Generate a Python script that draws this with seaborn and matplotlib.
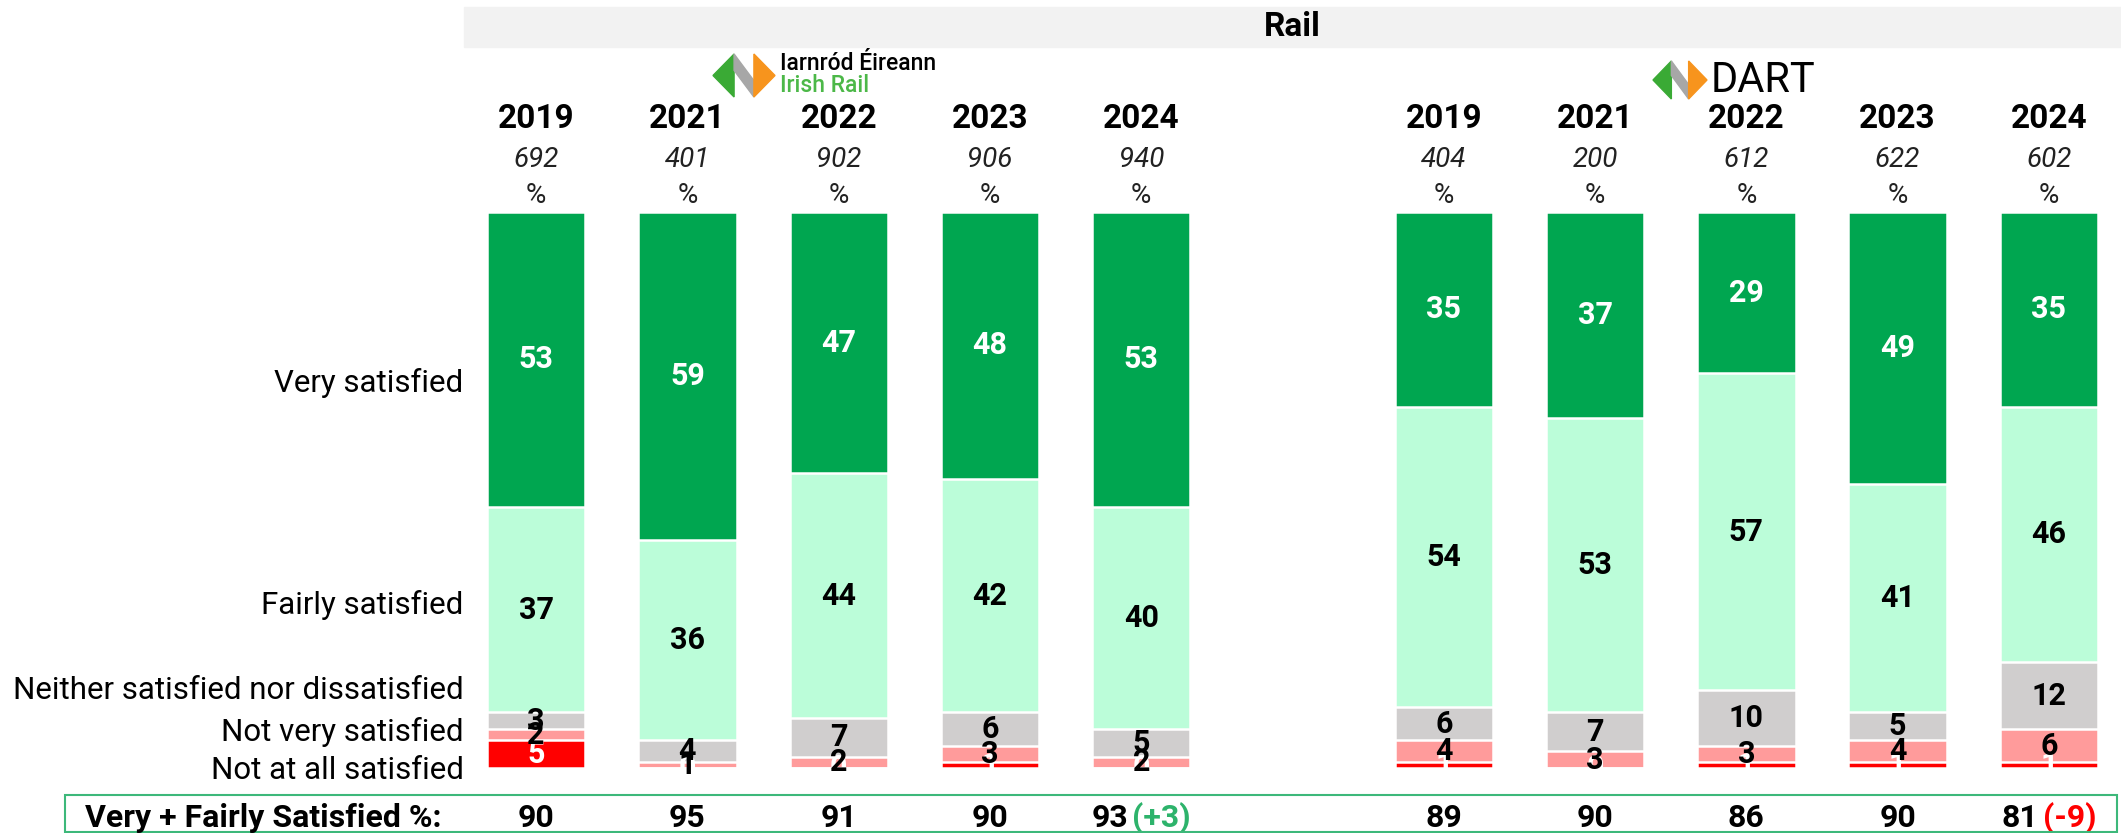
import numpy as np
import pandas as pd
import seaborn as sns
import matplotlib.pyplot as plt
from matplotlib.patches import Rectangle, Polygon

# survey data
operators = ["Irish Rail"] * 5 + ["DART"] * 5
years = ["2019", "2021", "2022", "2023", "2024"] * 2
bases = [692, 401, 902, 906, 940, 404, 200, 612, 622, 602]
very = [53, 59, 47, 48, 53, 35, 37, 29, 49, 35]
fairly = [37, 36, 44, 42, 40, 54, 53, 57, 41, 46]
neither = [3, 4, 7, 6, 5, 6, 7, 10, 5, 12]
not_very = [2, 1, 2, 3, 2, 4, 3, 3, 4, 6]
not_at_all = [5, 0, 0, 1, 0, 1, 0, 1, 1, 1]
categories = ["Very satisfied", "Fairly satisfied",
              "Neither satisfied nor dissatisfied",
              "Not very satisfied", "Not at all satisfied"]

colors = ["#00A650", "#BBFDD9", "#D0CECE", "#FF9B9B", "#FF0000"]
text_colors = ["white", "black", "black", "black", "white"]

W, H = 2121, 833
FONT = ["Roboto", "DejaVu Sans"]

sns.set_theme()
sns.set_style("white")
plt.rcParams["font.family"] = FONT

# slot 5 is the gap between the two operators
slots = [0, 1, 2, 3, 4, 6, 7, 8, 9, 10]
df = pd.DataFrame({"operator": operators, "year": years, "base": bases,
                   "slot": slots, "very": very, "fairly": fairly,
                   "neither": neither, "not_very": not_very,
                   "not_at_all": not_at_all})
cols = ["very", "fairly", "neither", "not_very", "not_at_all"]

fig = plt.figure(figsize=(W / 100, H / 100), dpi=100, facecolor="white")
ax = fig.add_axes([460.5 / W, 65 / H, 1661 / W, 556 / H])

# stacked bars: draw cumulative totals back to front
for i, col in enumerate(cols):
    top = df[cols[i:]].sum(axis=1)
    sns.barplot(x=df["slot"], y=top, native_scale=True, color=colors[i],
                width=0.65, edgecolor="white", linewidth=1.8,
                errorbar=None, saturation=1, ax=ax)

for _, row in df.iterrows():
    bottom = 0
    for i in range(len(cols) - 1, -1, -1):
        v = row[cols[i]]
        ax.text(row["slot"], bottom + v / 2, str(v), ha="center", va="center",
                fontsize=22, fontweight="bold", color=text_colors[i],
                clip_on=False)
        bottom += v

# column headers
for _, row in df.iterrows():
    ax.text(row["slot"], 116.7, row["year"], ha="center", va="center",
            fontsize=24, fontweight="bold", color="black", clip_on=False)
    ax.text(row["slot"], 109.4, str(row["base"]), ha="center", va="center",
            fontsize=20, fontstyle="italic", color="#222222", clip_on=False)
    ax.text(row["slot"], 102.9, "%", ha="center", va="center",
            fontsize=20, color="#222222", clip_on=False)

# row labels on the left
label_y = [69.2, 29.3, 14.0, 6.5, -0.5]
for name, y in zip(categories, label_y):
    ax.text(-0.48, y, name, ha="right", va="center", fontsize=22.5,
            color="black", clip_on=False)

ax.set_xlim(-0.5, 10.48)
ax.set_ylim(0, 100)
ax.axis("off")


def fx(px):
    return px / W


def fy(py):
    return 1 - py / H


# "Rail" banner
fig.patches.append(Rectangle((fx(464), fy(47)), 1 - fx(464), 40 / H,
                             transform=fig.transFigure, color="#F2F2F2",
                             zorder=0))
fig.text(fx(1292), fy(27), "Rail", ha="center", va="center", fontsize=24,
         fontweight="bold", color="black")


def draw_logo(x0, y0, w, h):
    shapes = [
        ([(0, 0.5), (0.34, 0), (0.34, 1)], "#3AAA35"),
        ([(0.34, 0), (0.66, 0.62), (0.66, 1), (0.34, 0.38)], "#A7A7A7"),
        ([(0.66, 0), (1, 0.5), (0.66, 1)], "#F7941D"),
    ]
    for pts, c in shapes:
        xy = [(fx(x0 + px * w), fy(y0 + py * h)) for px, py in pts]
        fig.patches.append(Polygon(xy, closed=True, transform=fig.transFigure,
                                   color=c, zorder=2))


draw_logo(713, 54, 62, 43)
fig.text(fx(780), fy(64), "Iarnród Éireann", ha="left", va="center",
         fontsize=16.5, color="black", fontweight="medium")
fig.text(fx(780), fy(86), "Irish Rail", ha="left", va="center",
         fontsize=16.5, color="#4CB848", fontweight="medium")
draw_logo(1653, 61, 54, 38)
fig.text(fx(1711), fy(81), "DART", ha="left", va="center", fontsize=30,
         color="black")

# bottom summary row
fig.patches.append(Rectangle((fx(65), fy(832)), fx(2117) - fx(65),
                             (832 - 795) / H, transform=fig.transFigure,
                             fill=False, edgecolor="#3DB87A", linewidth=1.5,
                             zorder=3))
fig.text(fx(85), fy(818), "Very + Fairly Satisfied %:", ha="left",
         va="center", fontsize=23, fontweight="bold", color="black")

top2 = np.array(very) + np.array(fairly)
pairs = []
for k, (s, v) in enumerate(zip(slots, top2)):
    t = ax.text(s, -9.0, str(v), ha="center", va="center", fontsize=23,
                fontweight="bold", color="black", clip_on=False)
    if years[k] == "2024":
        d = int(v - top2[k - 1])
        dc = "#2DB36B" if d > 0 else "#FF0000"
        dt = ax.text(s, -9.0, f"({d:+d})", ha="left", va="center",
                     fontsize=23, fontweight="bold", color=dc, clip_on=False)
        pairs.append((s, t, dt))

fig.canvas.draw()
renderer = fig.canvas.get_renderer()
inv = ax.transData.inverted()
for s, t, dt in pairs:
    w1 = t.get_window_extent(renderer).width
    w2 = dt.get_window_extent(renderer).width
    gap = 4
    cx = ax.transData.transform((s, 0))[0]
    left = cx - (w1 + gap + w2) / 2
    t.set_ha("left")
    t.set_x(inv.transform((left, 0))[0])
    dt.set_x(inv.transform((left + w1 + gap, 0))[0])

fig.savefig("out.png", dpi=100)
